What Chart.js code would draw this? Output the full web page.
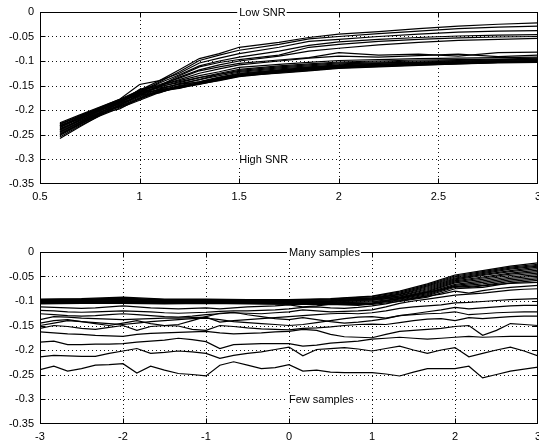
<!DOCTYPE html>
<html><head><meta charset="utf-8">
<script src="https://cdn.jsdelivr.net/npm/chart.js@4/dist/chart.umd.min.js"></script>
<style>
html,body{margin:0;padding:0;background:#fff;overflow:hidden;width:539px;height:443px}
#c1{position:absolute;left:0;top:0}
#c2{position:absolute;left:0;top:240px}
</style></head><body>
<canvas id="c1" width="539" height="203"></canvas>
<canvas id="c2" width="539" height="203"></canvas>
<script>
// ---------- DATA ----------
const yTickValues = [0,-0.05,-0.1,-0.15,-0.2,-0.25,-0.3,-0.35];
const yTickLabels = ['0','-0.05','-0.1','-0.15','-0.2','-0.25','-0.3','-0.35'];

const topXTicks = [0.5,1,1.5,2,2.5,3];
const topXLabels = ['0.5','1','1.5','2','2.5','3'];
const bottomXTicks = [-3,-2,-1,0,1,2,3];
const bottomXLabels = ['-3','-2','-1','0','1','2','3'];

const topNotes = ['Low SNR','High SNR'];
const topNoteAt = [[1.5,0],[1.5,-0.3]];
const bottomNotes = ['Many samples','Few samples'];
const bottomNoteAt = [[0,0],[0,-0.3]];

// top panel: x positions
const topX = [0.6,0.7,0.8,0.9,1.0,1.1,1.2,1.3,1.4,1.5,1.7,1.85,2.0,2.2,2.4,2.6,2.8,3.0];

// top panel: curves that rise above the bundle (low SNR)
const topRisingCurves = [
  [-0.232,-0.215,-0.196,-0.180,-0.160,-0.140, -0.118,-0.095,-0.085,-0.072,-0.062,-0.052, -0.045,-0.040,-0.034,-0.029,-0.025,-0.022],
  [-0.240,-0.220,-0.200,-0.182,-0.163,-0.143, -0.122,-0.099,-0.088,-0.078,-0.066,-0.055, -0.050,-0.044,-0.039,-0.034,-0.031,-0.029],
  [-0.228,-0.212,-0.195,-0.178,-0.148,-0.140, -0.125,-0.104,-0.094,-0.085,-0.072,-0.060, -0.056,-0.050,-0.045,-0.041,-0.039,-0.038],
  [-0.245,-0.225,-0.205,-0.186,-0.165,-0.145, -0.128,-0.110,-0.100,-0.092,-0.080,-0.068, -0.061,-0.056,-0.052,-0.049,-0.047,-0.046],
  [-0.236,-0.218,-0.199,-0.183,-0.168,-0.150, -0.130,-0.112,-0.103,-0.097,-0.088,-0.072, -0.066,-0.060,-0.056,-0.053,-0.051,-0.050],
  [-0.250,-0.228,-0.208,-0.190,-0.170,-0.152, -0.133,-0.118,-0.108,-0.100,-0.090,-0.080, -0.074,-0.067,-0.062,-0.058,-0.056,-0.054],
  [-0.242,-0.222,-0.202,-0.185,-0.158,-0.148, -0.135,-0.120,-0.112,-0.105,-0.098,-0.093, -0.083,-0.088,-0.086,-0.090,-0.083,-0.082],
  [-0.233,-0.217,-0.200,-0.184,-0.162,-0.150, -0.138,-0.125,-0.116,-0.108,-0.100,-0.094, -0.090,-0.092,-0.089,-0.086,-0.091,-0.088]
];

// top panel: main bundle (high SNR)
const topBundleCurves = [
  [-0.226,-0.210,-0.194,-0.178,-0.160,-0.150, -0.140,-0.130,-0.122,-0.113,-0.107,-0.103, -0.099,-0.097,-0.095,-0.094,-0.093,-0.092],
  [-0.258,-0.234,-0.211,-0.190,-0.168,-0.153, -0.142,-0.134,-0.127,-0.121,-0.114,-0.110, -0.106,-0.104,-0.102,-0.100,-0.098,-0.096],
  [-0.235,-0.215,-0.198,-0.184,-0.165,-0.152, -0.144,-0.134,-0.125,-0.117,-0.110,-0.106, -0.102,-0.100,-0.098,-0.097,-0.096,-0.094],
  [-0.248,-0.228,-0.206,-0.186,-0.172,-0.158, -0.146,-0.138,-0.130,-0.123,-0.116,-0.112, -0.108,-0.105,-0.103,-0.101,-0.099,-0.098],
  [-0.230,-0.212,-0.196,-0.180,-0.163,-0.155, -0.148,-0.138,-0.127,-0.119,-0.112,-0.108, -0.104,-0.102,-0.100,-0.099,-0.097,-0.096],
  [-0.252,-0.230,-0.209,-0.192,-0.175,-0.160, -0.150,-0.142,-0.133,-0.125,-0.118,-0.113, -0.109,-0.107,-0.104,-0.102,-0.100,-0.099],
  [-0.240,-0.220,-0.201,-0.188,-0.170,-0.157, -0.147,-0.143,-0.134,-0.126,-0.119,-0.114, -0.110,-0.107,-0.105,-0.103,-0.101,-0.099],
  [-0.244,-0.224,-0.203,-0.194,-0.178,-0.162, -0.152,-0.144,-0.135,-0.127,-0.120,-0.115, -0.110,-0.108,-0.105,-0.103,-0.101,-0.100],
  [-0.232,-0.218,-0.199,-0.182,-0.166,-0.159, -0.151,-0.145,-0.136,-0.128,-0.121,-0.115, -0.111,-0.108,-0.106,-0.104,-0.102,-0.100],
  [-0.255,-0.232,-0.212,-0.196,-0.180,-0.164, -0.153,-0.146,-0.137,-0.129,-0.122,-0.116, -0.112,-0.109,-0.106,-0.104,-0.102,-0.101],
  [-0.238,-0.222,-0.205,-0.190,-0.173,-0.161, -0.154,-0.147,-0.138,-0.130,-0.122,-0.117, -0.112,-0.109,-0.107,-0.105,-0.102,-0.101],
  [-0.246,-0.226,-0.207,-0.198,-0.176,-0.163, -0.155,-0.148,-0.139,-0.131,-0.123,-0.118, -0.113,-0.110,-0.107,-0.105,-0.103,-0.102],
  [-0.228,-0.214,-0.197,-0.181,-0.169,-0.165, -0.151,-0.147,-0.140,-0.132,-0.124,-0.119, -0.114,-0.111,-0.108,-0.106,-0.103,-0.102],
  [-0.250,-0.229,-0.210,-0.193,-0.177,-0.160, -0.156,-0.145,-0.138,-0.130,-0.125,-0.120, -0.115,-0.112,-0.109,-0.106,-0.104,-0.103]
];

// bottom panel: coarse x positions for the dense bundle
const bottomBundleX = [-3,-2.5,-2,-1.5,-1,-0.5,0,0.5,1,1.333,1.667,2,2.333,2.667,3];
const bottomBundleCurves = [
  [-0.096,-0.095,-0.092,-0.096,-0.096,-0.097,-0.097,-0.095,-0.090,-0.080,-0.065,-0.047,-0.038,-0.029,-0.022],
  [-0.097,-0.096,-0.094,-0.097,-0.097,-0.098,-0.098,-0.096,-0.091,-0.082,-0.067,-0.049,-0.040,-0.031,-0.025],
  [-0.098,-0.097,-0.095,-0.098,-0.098,-0.098,-0.099,-0.097,-0.093,-0.084,-0.069,-0.051,-0.042,-0.033,-0.027],
  [-0.098,-0.098,-0.096,-0.099,-0.098,-0.099,-0.099,-0.098,-0.094,-0.086,-0.071,-0.053,-0.044,-0.035,-0.029],
  [-0.099,-0.099,-0.097,-0.099,-0.099,-0.099,-0.100,-0.099,-0.095,-0.087,-0.073,-0.055,-0.046,-0.038,-0.031],
  [-0.100,-0.099,-0.098,-0.100,-0.100,-0.100,-0.100,-0.100,-0.096,-0.089,-0.075,-0.057,-0.048,-0.040,-0.034],
  [-0.100,-0.100,-0.099,-0.101,-0.100,-0.101,-0.101,-0.100,-0.097,-0.090,-0.077,-0.059,-0.051,-0.043,-0.037],
  [-0.101,-0.101,-0.100,-0.101,-0.101,-0.101,-0.101,-0.101,-0.098,-0.092,-0.079,-0.061,-0.053,-0.045,-0.040],
  [-0.102,-0.101,-0.100,-0.102,-0.102,-0.102,-0.102,-0.102,-0.099,-0.093,-0.081,-0.063,-0.056,-0.048,-0.043],
  [-0.102,-0.102,-0.101,-0.102,-0.102,-0.102,-0.103,-0.103,-0.101,-0.095,-0.083,-0.066,-0.059,-0.051,-0.046],
  [-0.103,-0.103,-0.102,-0.103,-0.103,-0.103,-0.104,-0.104,-0.102,-0.096,-0.085,-0.068,-0.062,-0.054,-0.049],
  [-0.104,-0.104,-0.103,-0.104,-0.104,-0.104,-0.105,-0.105,-0.104,-0.098,-0.087,-0.070,-0.065,-0.057,-0.052],
  [-0.105,-0.104,-0.104,-0.105,-0.104,-0.105,-0.106,-0.106,-0.105,-0.099,-0.089,-0.072,-0.068,-0.060,-0.055],
  [-0.106,-0.105,-0.105,-0.106,-0.105,-0.106,-0.107,-0.107,-0.107,-0.101,-0.092,-0.075,-0.072,-0.063,-0.058]
];

// bottom panel: fine x positions for the scattered curves
const bottomX = [-3,-2.833,-2.667,-2.5,-2.333,-2.167, -2,-1.833,-1.667,-1.5,-1.333,-1.167,
  -1,-0.833,-0.667,-0.5,-0.333,-0.167, 0,0.167,0.333,0.5,0.667,0.833,
  1,1.167,1.333,1.5,1.667,1.833, 2,2.167,2.333,2.5,2.667,2.833, 3];
const bottomSpreadCurves = [
  [-0.240,-0.233,-0.243,-0.238,-0.231,-0.230, -0.228,-0.247,-0.233,-0.241,-0.248,-0.250, -0.253,-0.231,-0.224,-0.231,-0.238,-0.236,
   -0.230,-0.243,-0.241,-0.245,-0.246,-0.246, -0.246,-0.249,-0.253,-0.245,-0.238,-0.238, -0.238,-0.233,-0.257,-0.250,-0.243,-0.239, -0.235],
  [-0.214,-0.211,-0.212,-0.213,-0.213,-0.207, -0.202,-0.197,-0.207,-0.205,-0.202,-0.204, -0.207,-0.217,-0.211,-0.207,-0.204,-0.199,
   -0.194,-0.212,-0.199,-0.197,-0.195,-0.198, -0.202,-0.197,-0.192,-0.200,-0.207,-0.200, -0.195,-0.214,-0.207,-0.200,-0.194,-0.202, -0.212],
  [-0.184,-0.182,-0.189,-0.189,-0.188,-0.188, -0.187,-0.184,-0.182,-0.180,-0.176,-0.179, -0.183,-0.197,-0.189,-0.188,-0.187,-0.187,
   -0.187,-0.192,-0.190,-0.186,-0.184,-0.182, -0.178,-0.176,-0.174,-0.176,-0.178,-0.176, -0.174,-0.172,-0.174,-0.173,-0.172,-0.172, -0.172],
  [-0.163,-0.165,-0.167,-0.168,-0.170,-0.171, -0.172,-0.168,-0.166,-0.165,-0.164,-0.163, -0.162,-0.165,-0.167,-0.166,-0.165,-0.163,
   -0.162,-0.158,-0.160,-0.168,-0.173,-0.174, -0.175,-0.168,-0.162,-0.160,-0.158,-0.156, -0.152,-0.150,-0.170,-0.160,-0.146,-0.148, -0.150],
  [-0.156,-0.150,-0.152,-0.156,-0.158,-0.154, -0.150,-0.160,-0.152,-0.150,-0.151,-0.158, -0.160,-0.150,-0.152,-0.155,-0.157,-0.158,
   -0.159,-0.156,-0.155,-0.153,-0.150,-0.148, -0.147,-0.148,-0.144,-0.140,-0.137,-0.136, -0.140,-0.134,-0.136,-0.134,-0.132,-0.131, -0.131],
  [-0.150,-0.145,-0.140,-0.142,-0.144,-0.146, -0.148,-0.145,-0.142,-0.140,-0.138,-0.136, -0.135,-0.138,-0.142,-0.144,-0.146,-0.148,
   -0.150,-0.148,-0.144,-0.140,-0.136,-0.133, -0.132,-0.135,-0.130,-0.128,-0.126,-0.125, -0.122,-0.128,-0.126,-0.124,-0.123,-0.122, -0.122],
  [-0.145,-0.140,-0.138,-0.142,-0.146,-0.150, -0.145,-0.140,-0.146,-0.150,-0.148,-0.140, -0.132,-0.125,-0.123,-0.128,-0.132,-0.136,
   -0.138,-0.134,-0.138,-0.142,-0.145,-0.143, -0.140,-0.136,-0.130,-0.126,-0.122,-0.118, -0.113,-0.116,-0.114,-0.112,-0.110,-0.109, -0.109],
  [-0.138,-0.132,-0.133,-0.135,-0.136,-0.137, -0.138,-0.137,-0.136,-0.135,-0.135,-0.134, -0.133,-0.143,-0.140,-0.138,-0.136,-0.134,
   -0.132,-0.130,-0.128,-0.126,-0.125,-0.126, -0.124,-0.120,-0.115,-0.112,-0.110,-0.108, -0.104,-0.103,-0.101,-0.099,-0.097,-0.096, -0.095],
  [-0.126,-0.128,-0.130,-0.131,-0.130,-0.128, -0.126,-0.128,-0.130,-0.132,-0.133,-0.131, -0.128,-0.126,-0.124,-0.125,-0.126,-0.124,
   -0.122,-0.118,-0.120,-0.122,-0.121,-0.120, -0.118,-0.112,-0.105,-0.100,-0.096,-0.092, -0.088,-0.086,-0.084,-0.081,-0.078,-0.076, -0.075],
  [-0.119,-0.120,-0.122,-0.123,-0.122,-0.121, -0.120,-0.121,-0.122,-0.124,-0.125,-0.124, -0.123,-0.121,-0.120,-0.120,-0.119,-0.118,
   -0.116,-0.113,-0.112,-0.114,-0.115,-0.113, -0.110,-0.106,-0.100,-0.095,-0.090,-0.086, -0.080,-0.084,-0.079,-0.075,-0.072,-0.070, -0.068],
  [-0.112,-0.113,-0.114,-0.115,-0.114,-0.112, -0.110,-0.112,-0.114,-0.115,-0.116,-0.115, -0.114,-0.116,-0.114,-0.112,-0.111,-0.110,
   -0.108,-0.112,-0.110,-0.107,-0.108,-0.109, -0.106,-0.100,-0.094,-0.088,-0.082,-0.077, -0.070,-0.072,-0.069,-0.066,-0.064,-0.063, -0.062]
];

// ---------- RENDERING ----------
const FONT = '"Liberation Sans", Arial, Helvetica, sans-serif';

function toDataset(xs, ys) {
  return {
    data: ys.map((y, i) => ({x: xs[i], y})),
    borderColor: '#000', borderWidth: 1.2, pointRadius: 0, fill: false, tension: 0
  };
}

function axesPlugin(xTicks, notes, noteAt) {
  return {
    id: 'matlabAxes',
    beforeDatasetsDraw(chart) {
      const {ctx, chartArea: a, scales: {x, y}} = chart;
      ctx.save();
      ctx.strokeStyle = '#111';
      ctx.lineWidth = 1;
      ctx.setLineDash([1, 3]);
      xTicks.forEach(v => {
        if (v <= x.min || v >= x.max) return;
        const px = Math.round(x.getPixelForValue(v)) + 0.5;
        ctx.beginPath(); ctx.moveTo(px, a.top); ctx.lineTo(px, a.bottom); ctx.stroke();
      });
      yTickValues.forEach(v => {
        if (v <= y.min || v >= y.max) return;
        const py = Math.round(y.getPixelForValue(v)) + 0.5;
        ctx.beginPath(); ctx.moveTo(a.left, py); ctx.lineTo(a.right, py); ctx.stroke();
      });
      ctx.restore();
    },
    afterDatasetsDraw(chart) {
      const {ctx, chartArea: a, scales: {x, y}} = chart;
      ctx.save();
      ctx.strokeStyle = '#000';
      ctx.lineWidth = 1;
      ctx.setLineDash([]);
      const L = Math.round(a.left) + 0.5, R = Math.round(a.right) - 0.5;
      const T = Math.round(a.top) + 0.5, B = Math.round(a.bottom) - 0.5;
      ctx.strokeRect(L, T, R - L, B - T);
      const tl = 5;
      ctx.beginPath();
      xTicks.forEach(v => {
        if (v <= x.min || v >= x.max) return;
        const px = Math.round(x.getPixelForValue(v)) + 0.5;
        ctx.moveTo(px, B); ctx.lineTo(px, B - tl);
        ctx.moveTo(px, T); ctx.lineTo(px, T + tl);
      });
      yTickValues.forEach(v => {
        if (v <= y.min || v >= y.max) return;
        const py = Math.round(y.getPixelForValue(v)) + 0.5;
        ctx.moveTo(L, py); ctx.lineTo(L + tl, py);
        ctx.moveTo(R, py); ctx.lineTo(R - tl, py);
      });
      ctx.stroke();
      // notes with white background
      ctx.font = '11px ' + FONT;
      ctx.textBaseline = 'middle';
      ctx.textAlign = 'left';
      notes.forEach((t, i) => {
        const px = x.getPixelForValue(noteAt[i][0]);
        const py = y.getPixelForValue(noteAt[i][1]);
        const w = ctx.measureText(t).width;
        ctx.fillStyle = '#fff';
        ctx.fillRect(px - 2, py - 6, w + 3, 12);
        ctx.fillStyle = '#000';
        ctx.fillText(t, px, py + 0.5);
      });
      ctx.restore();
    }
  };
}

function makeChart(id, datasets, xMin, xMax, xTicks, xLabels, notes, noteAt) {
  return new Chart(document.getElementById(id), {
    type: 'line',
    data: {datasets},
    options: {
      responsive: false, animation: false, devicePixelRatio: 1,
      layout: {padding: {top: 12, right: 1, left: 0, bottom: 0}},
      plugins: {legend: {display: false}, tooltip: {enabled: false}},
      elements: {line: {borderCapStyle: 'butt', borderJoinStyle: 'miter'}},
      scales: {
        x: {
          type: 'linear', min: xMin, max: xMax,
          afterBuildTicks: s => { s.ticks = xTicks.map(v => ({value: v})); },
          afterFit: s => { s.height = 19.5; s.paddingLeft = 0; s.paddingRight = 0; },
          ticks: {callback: (v, i) => xLabels[i], padding: 7, maxRotation: 0, autoSkip: false,
                  color: '#000', font: {family: FONT, size: 11}},
          grid: {display: false, drawTicks: false}, border: {display: false}
        },
        y: {
          type: 'linear', min: -0.35, max: 0,
          afterBuildTicks: s => { s.ticks = yTickValues.map(v => ({value: v})); },
          afterFit: s => { s.width = 40; s.paddingTop = 0; s.paddingBottom = 0; },
          ticks: {callback: (v, i) => yTickLabels[i], padding: 6, autoSkip: false,
                  color: '#000', font: {family: FONT, size: 11}},
          grid: {display: false, drawTicks: false}, border: {display: false}
        }
      }
    },
    plugins: [axesPlugin(xTicks, notes, noteAt)]
  });
}

const topSets = topBundleCurves.map(c => toDataset(topX, c))
  .concat(topRisingCurves.map(c => toDataset(topX, c)));
const bottomSets = bottomSpreadCurves.map(c => toDataset(bottomX, c))
  .concat(bottomBundleCurves.map(c => toDataset(bottomBundleX, c)));

makeChart('c1', topSets, 0.5, 3, topXTicks, topXLabels, topNotes, topNoteAt);
makeChart('c2', bottomSets, -3, 3, bottomXTicks, bottomXLabels, bottomNotes, bottomNoteAt);
</script>
</body></html>
